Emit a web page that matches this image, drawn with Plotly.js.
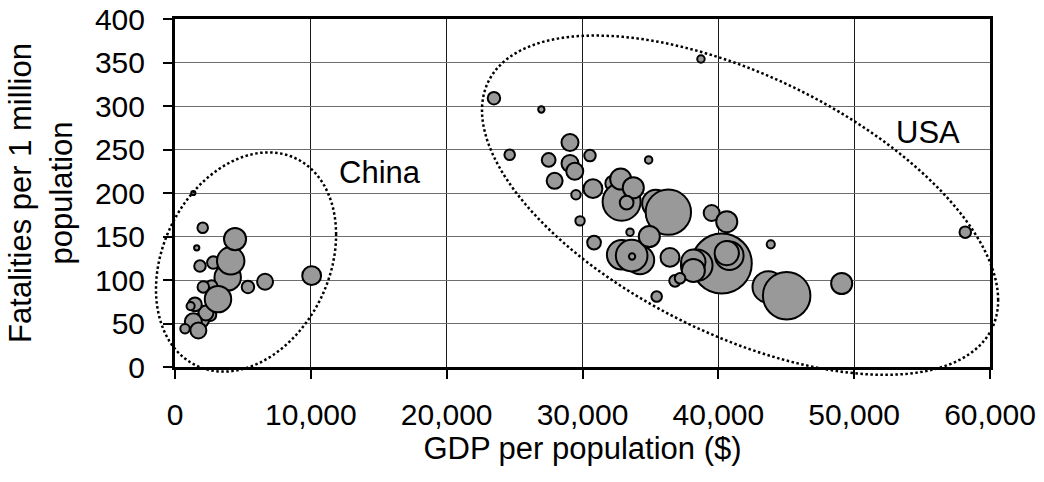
<!DOCTYPE html>
<html>
<head>
<meta charset="utf-8">
<script src="https://cdn.plot.ly/plotly-3.0.1.min.js"></script>
<style>
  html, body { margin: 0; padding: 0; background: #fff; }
  #chart { width: 1044px; height: 482px; }
</style>
</head>
<body>
<div id="chart"></div>
<script>
// Provinces of China: GDP per head ($), road fatalities per 1 million, bubble weight
const chinaGdp   = [1350, 1600, 2040, 1840, 2820, 3880, 4100, 4420, 2700, 2085, 5370, 6630, 10060, 2580, 1960, 2280, 1470, 1150, 1350, 1720, 736, 3165];
const chinaFatal = [200, 137, 160, 116, 120, 103, 122, 147, 93, 92, 92, 98, 105, 60, 54, 62, 72, 70, 52, 42, 44, 78];
const chinaSize  = [0.16, 0.25, 1.0, 1.2, 1.4, 6.3, 6.8, 4.4, 1.2, 1.2, 1.4, 2.3, 3.2, 1.4, 2.0, 2.0, 1.7, 0.6, 2.6, 2.3, 0.8, 6.3];

// States of the USA
const usaGdp   = [35400, 32270, 32880, 32810, 33740, 33250, 36320, 40250, 38410, 38160, 38160, 40810, 40620, 43680, 45030,
                  32880, 34230, 33620, 33650, 34920, 33500, 36440, 36810, 37180, 35460, 39510, 40620, 43860, 49080, 58180,
                  38720, 23480, 26970, 24640, 27510, 29080, 30550, 29080, 29430, 27950, 30770, 29520, 29820, 30850, 34870];
const usaFatal = [188, 211, 190, 216, 206, 189, 178, 119, 117, 121, 111, 128, 131, 92, 82,
                  129, 123, 128, 127, 150, 155, 126, 99, 102, 81, 177, 167, 141, 96, 155,
                  354, 309, 296, 244, 238, 258, 243, 234, 225, 214, 205, 198, 168, 143, 238];
const usaSize  = [6.8, 2.3, 13.0, 4.0, 4.0, 1.7, 18.5, 32.5, 9.0, 5.3, 4.8, 7.3, 5.3, 9.0, 20.3,
                  7.8, 7.3, 9.0, 0.36, 4.0, 0.5, 3.2, 1.2, 1.0, 1.0, 2.3, 4.0, 0.6, 4.0, 1.2,
                  0.5, 1.4, 0.36, 1.0, 1.7, 2.6, 1.2, 2.6, 2.6, 2.3, 3.2, 0.8, 0.8, 1.7, 0.5];

// Axis ticks
const xTicks = [0, 10000, 20000, 30000, 40000, 50000, 60000];
const xTickText = ['0', '10,000', '20,000', '30,000', '40,000', '50,000', '60,000'];
const yTicks = [0, 50, 100, 150, 200, 250, 300, 350, 400];

const X_MAX = 60000, Y_MAX = 400;
const FONT = 'Liberation Sans, Arial, Helvetica, sans-serif';

// Group outlines, in data units: centre, half-width, half-height, phase
const groups = [
  { label: 'China', cx: 5230, cy: 120.7, rx: 6630, ry: 126, phase: Math.acos(0.25), tx: 15100, ty: 223 },
  { label: 'USA',   cx: 41600, cy: 186, rx: 19000, ry: 195, phase: Math.acos(-0.56), tx: 55400, ty: 270 }
];

function outlinePath(g) {
  const n = 160;
  let d = '';
  for (let i = 0; i <= n; i++) {
    const t = 2 * Math.PI * i / n;
    const x = (g.cx + g.rx * Math.cos(t)) / X_MAX;
    const y = (g.cy + g.ry * Math.cos(t - g.phase)) / Y_MAX;
    d += (i === 0 ? 'M' : 'L') + x.toFixed(5) + ',' + y.toFixed(5);
  }
  return d + 'Z';
}

const bubbleMarker = (sizes) => ({
  size: sizes,
  sizemode: 'area',
  sizeref: 0.018,
  color: '#999999',
  opacity: 1,
  line: { color: '#000000', width: 2 }
});

const traces = [
  { type: 'scatter', mode: 'markers', x: chinaGdp, y: chinaFatal, marker: bubbleMarker(chinaSize),
    cliponaxis: false, hoverinfo: 'x+y' },
  { type: 'scatter', mode: 'markers', x: usaGdp, y: usaFatal, marker: bubbleMarker(usaSize),
    cliponaxis: false, hoverinfo: 'x+y' }
];

const axisCommon = {
  showline: true, linecolor: '#000', linewidth: 3, mirror: true,
  ticks: 'outside', ticklen: 9, tickwidth: 2, tickcolor: '#000',
  showgrid: true, gridwidth: 1, zeroline: false,
  tickfont: { family: FONT, size: 30, color: '#000' }
};

const layout = {
  width: 1044, height: 482,
  margin: { l: 175, r: 54, t: 19, b: 115 },
  paper_bgcolor: '#ffffff', plot_bgcolor: '#ffffff',
  showlegend: false,
  font: { family: FONT, color: '#000' },
  xaxis: Object.assign({}, axisCommon, {
    range: [0, X_MAX], tickvals: xTicks, ticktext: xTickText, gridcolor: '#1a1a1a',
    ticklabelstandoff: 10,
    title: { text: 'GDP per population ($)', font: { family: FONT, size: 31, color: '#000' }, standoff: 0 }
  }),
  yaxis: Object.assign({}, axisCommon, {
    range: [0, Y_MAX], tickvals: yTicks, gridcolor: '#6e6e6e',
    ticklabelstandoff: 12,
    title: { text: 'Fatalities per 1 million<br>population', font: { family: FONT, size: 31, color: '#000' }, standoff: 14 }
  }),
  shapes: groups.map(g => ({
    type: 'path', xref: 'paper', yref: 'paper', path: outlinePath(g),
    line: { color: '#000', width: 2.5, dash: '2.5px,2.5px' }, fillcolor: 'rgba(0,0,0,0)', layer: 'above'
  })),
  annotations: groups.map(g => ({
    x: g.tx, y: g.ty, xref: 'x', yref: 'y', text: g.label, showarrow: false,
    font: { family: FONT, size: 31, color: '#000' }, xanchor: 'center', yanchor: 'middle'
  }))
};

Plotly.newPlot('chart', traces, layout, { displayModeBar: false, staticPlot: true });
</script>
</body>
</html>
